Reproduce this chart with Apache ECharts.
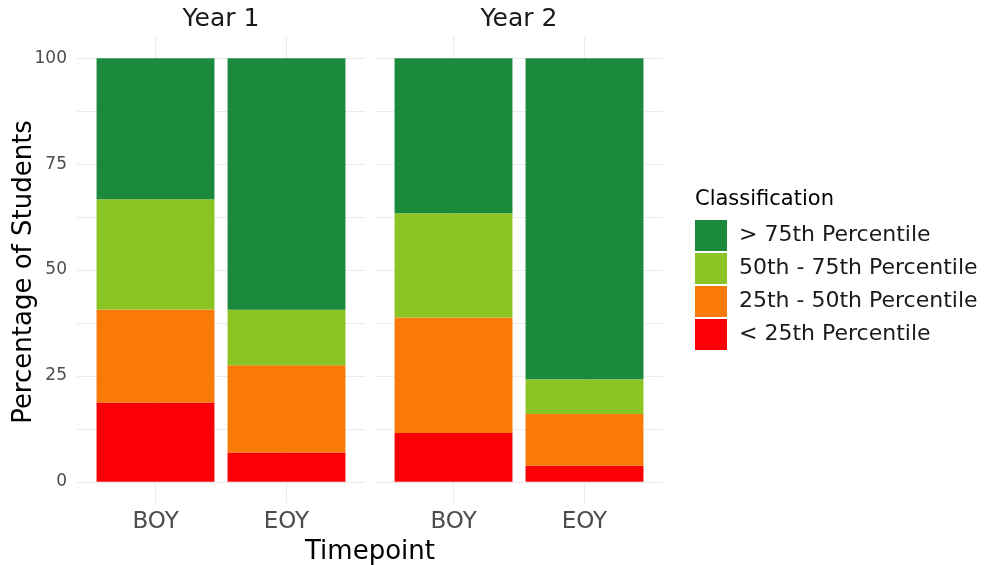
<!DOCTYPE html>
<html>
<head>
<meta charset="utf-8">
<script src="https://cdn.jsdelivr.net/npm/echarts@6/dist/echarts.min.js"></script>
<style>
  html, body { margin: 0; background: #fff; }
  #chart { width: 990px; height: 565px; }
</style>
</head>
<body>
<div id="chart"></div>
<script>
const FONT = 'DejaVu Sans'

const years = ['Year 1', 'Year 2']
const timepoints = ['BOY', 'EOY']
// bottom of the stack first
const classes = ['< 25th Percentile', '25th - 50th Percentile', '50th - 75th Percentile', '> 75th Percentile']
const classColors = ['#FA0006', '#F97A08', '#8BC425', '#1B8A3D']
const yTickLabels = [0, 25, 50, 75, 100]
const yGridValues = [0, 12.5, 25, 37.5, 50, 62.5, 75, 87.5, 100]

// percentage of students, [BOY, EOY]
const year1Below25 = [18.7, 6.9]
const year1P25to50 = [22.0, 20.6]
const year1P50to75 = [26.0, 13.1]
const year1Above75 = [33.3, 59.4]

const year2Below25 = [11.5, 3.8]
const year2P25to50 = [27.3, 12.2]
const year2P50to75 = [24.6, 8.2]
const year2Above75 = [36.6, 75.8]

const yearData = [
  [year1Below25, year1P25to50, year1P50to75, year1Above75],
  [year2Below25, year2P25to50, year2P50to75, year2Above75],
]

const GRID_COLOR = '#EBEBEB'
const panelLeft = [77, 375]
const panelWidth = 288
const panelTop = 37
const panelHeight = 466
// bars live in an inner grid whose bands match ggplot's 0.6 expansion
const barInset = 13

const chart = echarts.init(document.getElementById('chart'), null, { renderer: 'canvas' })

const grids = []
const xAxes = []
const yAxes = []

// panel grids: grid lines + labels
panelLeft.forEach((left, i) => {
  grids.push({ left, top: panelTop, width: panelWidth, height: panelHeight, outerBoundsMode: 'none', containLabel: false })
  xAxes.push({
    gridIndex: i,
    type: 'value',
    min: 0.4,
    max: 2.6,
    axisLine: { show: false },
    axisTick: { show: false, customValues: [1, 2] },
    axisLabel: {
      customValues: [1, 2],
      formatter: (v) => timepoints[Math.round(v) - 1],
      margin: 8,
      color: '#4D4D4D',
      fontFamily: FONT,
      fontSize: 23,
    },
    splitLine: { show: true, lineStyle: { color: GRID_COLOR, width: 1.2 } },
  })
  yAxes.push({
    gridIndex: i,
    type: 'value',
    min: -5,
    max: 105,
    axisLine: { show: false },
    axisTick: { show: false, customValues: yGridValues },
    axisLabel: {
      show: i === 0,
      customValues: yTickLabels,
      margin: 10,
      color: '#4D4D4D',
      fontFamily: FONT,
      fontSize: 17,
    },
    splitLine: { show: true, lineStyle: { color: GRID_COLOR, width: 1.2 } },
  })
})

// bar grids
panelLeft.forEach((left, i) => {
  grids.push({ left: left + barInset, top: panelTop, width: panelWidth - 2 * barInset, height: panelHeight, outerBoundsMode: 'none', containLabel: false })
  xAxes.push({ gridIndex: 2 + i, type: 'category', data: timepoints, show: false })
  yAxes.push({ gridIndex: 2 + i, type: 'value', min: -5, max: 105, show: false })
})

const series = []
years.forEach((yr, y) => {
  classes.forEach((cls, c) => {
    series.push({
      type: 'bar',
      name: cls,
      xAxisIndex: 2 + y,
      yAxisIndex: 2 + y,
      stack: 'year' + y,
      barWidth: '90%',
      itemStyle: { color: classColors[c] },
      emphasis: { disabled: true },
      data: yearData[y][c],
    })
  })
})

const textGraphics = [
  { type: 'text', x: 221, y: 19, style: { text: years[0], fill: '#1A1A1A', fontFamily: FONT, fontSize: 25, align: 'center', verticalAlign: 'middle' } },
  { type: 'text', x: 519, y: 19, style: { text: years[1], fill: '#1A1A1A', fontFamily: FONT, fontSize: 25, align: 'center', verticalAlign: 'middle' } },
  { type: 'text', x: 370, y: 552, style: { text: 'Timepoint', fill: '#000', fontFamily: FONT, fontSize: 26, align: 'center', verticalAlign: 'middle' } },
  { type: 'text', x: 24, y: 272, rotation: Math.PI / 2, style: { text: 'Percentage of Students', fill: '#000', fontFamily: FONT, fontSize: 26, align: 'center', verticalAlign: 'middle' } },
  { type: 'text', x: 695, y: 200, style: { text: 'Classification', fill: '#000', fontFamily: FONT, fontSize: 21, align: 'left', verticalAlign: 'middle' } },
]

chart.setOption({
  backgroundColor: '#fff',
  animation: false,
  grid: grids,
  xAxis: xAxes,
  yAxis: yAxes,
  legend: {
    data: classes.slice().reverse(),
    orient: 'vertical',
    left: 695,
    top: 220,
    padding: 0,
    itemWidth: 32,
    itemHeight: 31,
    itemGap: 2,
    icon: 'rect',
    selectedMode: false,
    textStyle: { fontFamily: FONT, fontSize: 22, color: '#1A1A1A', padding: [0, 0, 0, 7] },
  },
  graphic: textGraphics,
  series,
})
</script>
</body>
</html>
